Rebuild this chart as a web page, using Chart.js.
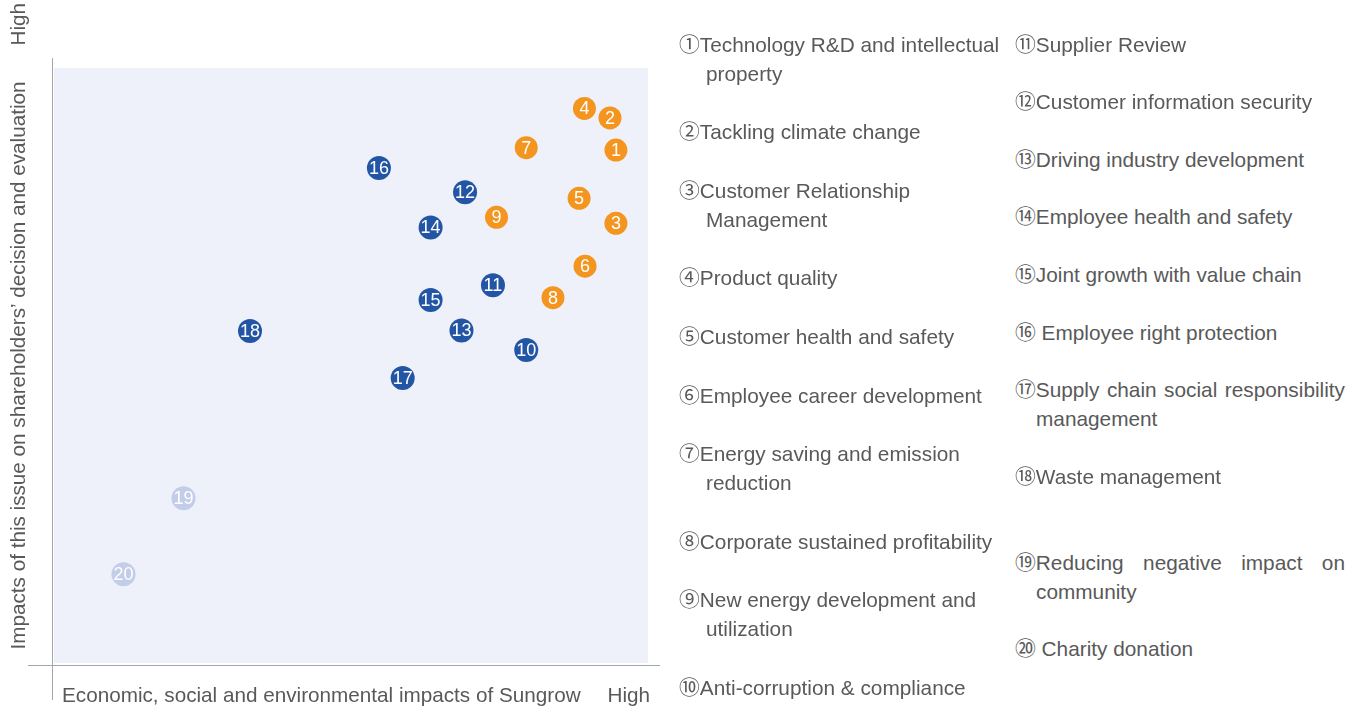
<!DOCTYPE html>
<html>
<head>
<meta charset="utf-8">
<script src="https://cdn.jsdelivr.net/npm/chart.js@4.4.1/dist/chart.umd.min.js"></script>
<style>
  html, body { margin: 0; padding: 0; background: #fff; }
  body { width: 1363px; height: 712px; position: relative; overflow: hidden;
    font-family: "Liberation Sans", Arial, "Noto Sans CJK SC", sans-serif; color: #595959; }
  #wrap { position: absolute; left: 0; top: 0; width: 680px; height: 712px; }
  .item { position: absolute; font-size: 20.8px; line-height: 29px; white-space: nowrap; }
  .item .ind { display: block; }
  .item .spread { display: flex; justify-content: space-between; width: 330px; }
</style>
</head>
<body>
<div id="wrap"><canvas id="c" width="680" height="712"></canvas></div>
<div id="legend"></div>
<script>
// issue numbers and positions (0-100 on both axes)
const issueNo = [1, 2, 3, 4, 5, 6, 7, 8, 9, 10, 11, 12, 13, 14, 15, 16, 17, 18, 19, 20]
const shareholderImpact = [86.2, 91.6, 73.9, 93.2, 78.1, 66.7, 86.6, 61.4, 74.9, 52.6, 63.5, 79.1, 55.9, 73.2, 61.0, 83.2, 47.9, 55.8, 27.7, 14.9]
const sungrowImpact = [94.6, 93.6, 94.6, 89.3, 88.4, 89.4, 79.5, 84.0, 74.5, 79.5, 73.9, 69.2, 68.6, 63.4, 63.4, 54.7, 58.7, 33.0, 21.8, 11.7]
const level = ["high", "high", "high", "high", "high", "high", "high", "high", "high",
  "mid", "mid", "mid", "mid", "mid", "mid", "mid", "mid", "mid", "low", "low"]
const issueNames = [
  "Technology R&D and intellectual property",
  "Tackling climate change",
  "Customer Relationship Management",
  "Product quality",
  "Customer health and safety",
  "Employee career development",
  "Energy saving and emission reduction",
  "Corporate sustained profitability",
  "New energy development and utilization",
  "Anti-corruption & compliance",
  "Supplier Review",
  "Customer information security",
  "Driving industry development",
  "Employee health and safety",
  "Joint growth with value chain",
  "Employee right protection",
  "Supply chain social responsibility management",
  "Waste management",
  "Reducing negative impact on community",
  "Charity donation"
]
const circled = ["①","②","③","④","⑤","⑥","⑦","⑧","⑨","⑩","⑪","⑫","⑬","⑭","⑮","⑯","⑰","⑱","⑲","⑳"]
const xTitle = "Economic, social and environmental impacts of Sungrow"
const yTitle = "Impacts of this issue on shareholders’ decision and evaluation"
const highLabel = "High"

const colors = { high: "#f4951f", mid: "#2355a5", low: "#c3cde9" }

function pointsFor(lv) {
  const out = []
  issueNo.forEach((n, i) => {
    if (level[i] === lv) out.push({ x: sungrowImpact[i], y: shareholderImpact[i], n })
  })
  return out
}

const decor = {
  id: "decor",
  beforeDraw(chart) {
    const { ctx, chartArea: a } = chart
    ctx.save()
    ctx.fillStyle = "#eef1fa"
    ctx.fillRect(a.left, a.top, a.right - a.left, a.bottom - a.top)
    ctx.strokeStyle = "#a6a6a6"
    ctx.lineWidth = 1
    ctx.beginPath()
    ctx.moveTo(a.left - 1.5, a.top - 10)
    ctx.lineTo(a.left - 1.5, a.bottom + 37)
    ctx.moveTo(a.left - 26, a.bottom + 2.5)
    ctx.lineTo(a.right + 12, a.bottom + 2.5)
    ctx.stroke()
    ctx.fillStyle = "#595959"
    ctx.font = "20.7px 'Liberation Sans', Arial, sans-serif"
    ctx.textBaseline = "middle"
    ctx.textAlign = "left"
    ctx.fillText(xTitle, a.left + 8, a.bottom + 33)
    ctx.textAlign = "right"
    ctx.fillText(highLabel, a.right + 2, a.bottom + 33)
    ctx.translate(19, 0)
    ctx.rotate(-Math.PI / 2)
    ctx.textAlign = "center"
    ctx.fillText(yTitle, -(a.top + a.bottom) / 2, 0)
    ctx.textAlign = "right"
    ctx.fillText(highLabel, -3, 0)
    ctx.restore()
  },
  afterDatasetsDraw(chart) {
    const { ctx } = chart
    ctx.save()
    ctx.fillStyle = "#ffffff"
    ctx.font = "18px 'Liberation Sans', Arial, sans-serif"
    ctx.textAlign = "center"
    ctx.textBaseline = "middle"
    chart.data.datasets.forEach((ds, di) => {
      chart.getDatasetMeta(di).data.forEach((el, i) => {
        ctx.fillText(String(ds.data[i].n), el.x, el.y + 1)
      })
    })
    ctx.restore()
  }
}

new Chart(document.getElementById("c").getContext("2d"), {
  type: "scatter",
  data: {
    datasets: ["high", "mid", "low"].map(lv => ({
      label: lv,
      data: pointsFor(lv),
      backgroundColor: colors[lv],
      borderColor: colors[lv],
      borderWidth: 0,
      pointRadius: lv === "high" ? 11.5 : 12,
      pointHoverRadius: 12
    }))
  },
  options: {
    responsive: false,
    animation: false,
    layout: { padding: { left: 54, right: 32, top: 68, bottom: 49 } },
    plugins: { legend: { display: false }, tooltip: { enabled: false } },
    scales: {
      x: { display: false, min: 0, max: 100 },
      y: { display: false, min: 0, max: 100 }
    }
  },
  plugins: [decor]
})

// legend text on the right
const legendTop = [30, 117, 176, 263, 322, 381, 439, 527, 585, 673, 30, 87, 145, 202, 260, 318, 375, 462, 548, 634]
const legendLeft = [679, 1015]
const legendWrap = { 0: "property", 2: "Management", 6: "reduction", 8: "utilization", 16: "management", 18: "community" }
const spaced = { 15: true, 19: true }
const spread = { 16: true, 18: true }
const leg = document.getElementById("legend")
issueNames.forEach((name, i) => {
  const d = document.createElement("div")
  d.className = "item"
  d.style.left = legendLeft[i < 10 ? 0 : 1] + "px"
  d.style.top = legendTop[i] + "px"
  const sep = spaced[i] ? " " : ""
  if (legendWrap[i]) {
    const first = circled[i] + name.slice(0, name.length - legendWrap[i].length - 1)
    const l1 = document.createElement("span")
    if (spread[i]) {
      l1.className = "spread"
      first.split(" ").forEach(w => {
        const s = document.createElement("span")
        s.textContent = w
        l1.appendChild(s)
      })
    } else {
      l1.className = "ind"
      l1.textContent = first
    }
    const l2 = document.createElement("span")
    l2.className = "ind"
    l2.style.paddingLeft = (i < 10 ? 27 : 21) + "px"
    l2.textContent = legendWrap[i]
    d.appendChild(l1)
    d.appendChild(l2)
  } else {
    d.textContent = circled[i] + sep + name
  }
  leg.appendChild(d)
})
</script>
</body>
</html>
